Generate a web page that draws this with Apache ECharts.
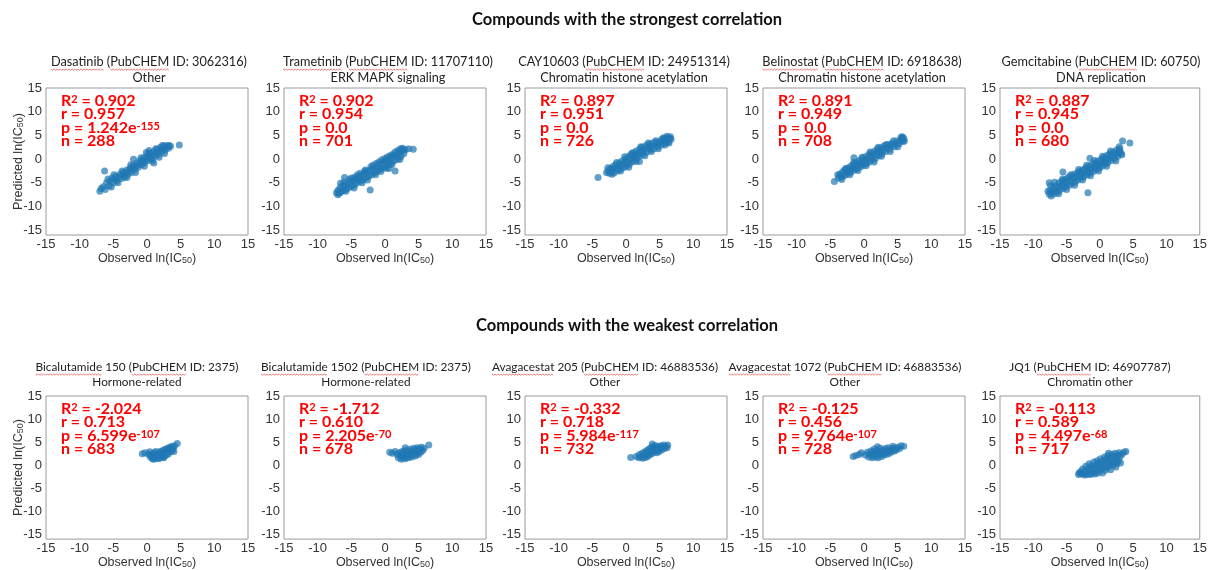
<!DOCTYPE html>
<html>
<head>
<meta charset="utf-8">
<script src="https://cdn.jsdelivr.net/npm/echarts@6/dist/echarts.min.js"></script>
<style>
  html, body { margin: 0; padding: 0; background: #fff; }
  #main { width: 1210px; height: 570px; }
</style>
</head>
<body>
<div id="main"></div>
<script>
// ---- chart text ----
const headings = ['Compounds with the strongest correlation', 'Compounds with the weakest correlation'];
const compoundTitles = [
    'Dasatinib (PubCHEM ID: 3062316)', 'Trametinib (PubCHEM ID: 11707110)', 'CAY10603 (PubCHEM ID: 24951314)',
    'Belinostat (PubCHEM ID: 6918638)', 'Gemcitabine (PubCHEM ID: 60750)',
    'Bicalutamide 150 (PubCHEM ID: 2375)', 'Bicalutamide 1502 (PubCHEM ID: 2375)', 'Avagacestat 205 (PubCHEM ID: 46883536)',
    'Avagacestat 1072 (PubCHEM ID: 46883536)', 'JQ1 (PubCHEM ID: 46907787)'
];
const pathways = ['Other', 'ERK MAPK signaling', 'Chromatin histone acetylation', 'Chromatin histone acetylation', 'DNA replication',
    'Hormone-related', 'Hormone-related', 'Other', 'Other', 'Chromatin other'];
// words flagged by the spell checker in the original slide
const flaggedWords = [
    ['Dasatinib', 'PubCHEM'], ['Trametinib', 'PubCHEM'], ['PubCHEM'], ['Belinostat', 'PubCHEM'], ['PubCHEM'],
    ['Bicalutamide', 'PubCHEM'], ['Bicalutamide', 'PubCHEM'], ['Avagacestat', 'PubCHEM'], ['Avagacestat', 'PubCHEM'], ['PubCHEM']
];

// ---- stats ----
const r2Values = ['0.902', '0.902', '0.897', '0.891', '0.887', '-2.024', '-1.712', '-0.332', '-0.125', '-0.113'];
const rValues = ['0.957', '0.954', '0.951', '0.949', '0.945', '0.713', '0.610', '0.718', '0.456', '0.589'];
const pMantissa = ['1.242', '0.0', '0.0', '0.0', '0.0', '6.599', '2.205', '5.984', '9.764', '4.497'];
const pExponent = ['-155', '', '', '', '', '-107', '-70', '-117', '-107', '-68'];
const nValues = [288, 701, 726, 708, 680, 683, 678, 732, 728, 717];

const axisTicks = [-15, -10, -5, 0, 5, 10, 15];

// ---- observed vs predicted ln(IC50) ----
const dasatinib = [
    [-7.0,-6.8],[-6.8,-6.2],[-6.5,-5.8],[-6.3,-2.5],[-6.0,-5.0],[-5.6,-5.6],[-5.5,-4.6],[-5.2,-4.0],[-5.0,-5.0],[-4.8,-4.2],
    [-4.6,-3.6],[-4.5,-4.6],[-4.2,-3.9],[-4.0,-3.2],[-3.8,-4.1],[-3.6,-3.4],[-3.5,-2.8],[-3.3,-3.8],[-3.1,-2.9],[-3.0,-2.3],
    [-2.8,-3.2],[-2.6,-2.4],[-2.5,-1.8],[-2.3,-2.8],[-2.1,-1.9],[-2.0,-1.3],[-1.8,-2.2],[-1.6,-1.5],[-1.5,-0.8],[-1.3,-1.7],
    [-1.1,-1.0],[-1.0,-0.3],[-0.8,-1.2],[-0.6,-0.5],[-0.5,0.3],[-0.3,-0.7],[-0.1,0.0],[0.0,0.7],[0.2,-0.3],[0.4,0.4],
    [0.5,1.2],[0.7,0.1],[0.9,0.9],[1.0,1.6],[1.2,0.6],[1.4,1.3],[1.5,2.1],[1.7,1.0],[1.9,1.8],[2.0,2.5],
    [2.2,1.5],[2.4,2.2],[2.5,2.8],[2.7,1.9],[2.9,2.5],[3.0,2.9],[3.2,2.3],[3.5,2.7],[4.8,3.0],[0.3,1.8],
    [-2.0,0.0],[1.0,-0.8],[-0.1,1.4],[-5.8,-4.2],[-4.9,-3.3],[-4.3,-5.0],[-3.7,-2.5],[-3.0,-3.9],[-2.4,-1.2],[-1.7,-2.8],
    [-0.9,0.3],[-0.4,-1.5],[0.3,1.3],[0.8,-0.4],[1.3,2.2],[1.8,0.4],[2.3,2.9],[2.6,1.2],[3.3,2.9],[-6.2,-6.4],[-5.3,-5.9]
];
const trametinib = [
    [-7.2,-7.1],[-7.0,-6.6],[-6.8,-7.2],[-6.7,-6.1],[-6.4,-6.7],[-6.3,-5.6],[-6.0,-6.5],[-5.9,-5.4],[-6.1,-4.9],[-5.6,-6.2],
    [-5.5,-5.2],[-5.2,-5.9],[-5.1,-4.8],[-5.3,-4.3],[-4.8,-5.6],[-4.7,-4.5],[-4.4,-5.3],[-4.3,-4.2],[-4.5,-3.8],[-4.0,-4.9],
    [-3.9,-3.8],[-3.6,-4.6],[-3.5,-3.5],[-3.7,-3.0],[-3.2,-4.3],[-3.1,-3.1],[-2.8,-3.9],[-2.7,-2.8],[-2.9,-2.3],[-2.4,-3.6],
    [-2.3,-2.4],[-2.0,-3.3],[-1.9,-2.1],[-2.1,-1.6],[-1.6,-2.9],[-1.5,-1.8],[-1.2,-2.6],[-1.1,-1.4],[-1.3,-0.9],[-0.8,-2.2],
    [-0.7,-1.1],[-0.4,-1.9],[-0.3,-0.7],[-0.5,-0.2],[0.0,-1.6],[0.1,-0.4],[0.4,-1.2],[0.5,0.0],[0.3,0.4],[0.8,-0.9],
    [0.9,0.3],[1.2,-0.5],[1.3,0.7],[1.1,1.0],[1.6,-0.2],[1.7,1.0],[2.0,0.2],[2.1,1.4],[1.9,1.8],[2.4,0.6],
    [2.5,1.7],[2.3,2.2],[2.8,1.2],[2.7,2.0],[-2.2,-6.5],[1.5,-2.5],[3.5,2.2],[4.2,2.1],[-6.0,-3.9],[0.6,-2.0],
    [-6.6,-5.1],[-5.8,-6.8],[-5.0,-4.0],[-4.6,-6.1],[-4.1,-3.3],[-3.4,-5.0],[-3.0,-2.5],[-2.6,-4.4],[-1.8,-1.3],[-1.4,-3.3],
    [-0.9,-0.6],[-0.6,-2.6],[-0.1,0.1],[0.2,-1.9],[0.7,0.7],[1.0,-1.2],[1.5,1.5],[2.2,-0.1],[2.6,2.3],[3.0,2.0],
    [-7.0,-7.5],[-6.6,-7.0]
];
const cay10603 = [
    [-4.15,-3.9],[-2.9,-2.8],[-2.6,-2.4],[-2.5,-3.0],[-2.3,-1.9],[-2.2,-2.7],[-2.0,-2.2],[-1.9,-1.5],[-1.8,-2.9],[-1.6,-2.0],
    [-1.5,-1.2],[-1.3,-2.5],[-1.2,-1.6],[-1.0,-0.8],[-0.9,-2.1],[-0.7,-1.3],[-0.6,-0.4],[-0.4,-1.8],[-0.3,-0.9],[-0.1,0.0],
    [0.0,-1.5],[0.2,-0.5],[0.3,0.5],[0.5,-1.1],[0.6,-0.1],[0.7,0.9],[0.9,-0.6],[1.0,0.3],[1.1,1.3],[1.3,-0.2],
    [1.4,0.8],[1.5,1.7],[1.7,0.3],[1.8,1.2],[2.0,2.1],[2.1,0.7],[2.3,1.6],[2.4,2.5],[2.6,1.1],[2.7,2.0],
    [2.9,2.8],[3.1,1.5],[3.2,2.4],[3.4,3.1],[3.6,1.9],[3.7,2.7],[3.9,3.4],[4.1,2.2],[4.3,3.0],[4.5,3.6],
    [4.7,2.6],[4.9,3.3],[5.1,3.9],[5.3,3.0],[5.5,3.7],[5.7,4.2],[5.9,3.4],[6.0,4.0],[6.2,4.5],[6.3,3.7],
    [6.5,4.3],[6.6,4.7],[6.1,4.8],[5.6,4.5],[2.0,-0.5],[-2.7,-1.8],[-2.1,-3.2],[-1.4,-0.7],[-0.8,-2.5],[-0.2,0.5],
    [0.4,-1.7],[0.9,1.3],[1.5,-0.5],[2.2,2.6],[2.8,0.7],[3.3,3.4],[3.8,1.6],[4.4,3.9],[4.8,2.2],[5.4,4.3],
    [5.8,3.0],[6.4,3.4],[6.7,4.2]
];
const belinostat = [
    [-4.4,-4.7],[-3.8,-4.0],[-3.6,-3.2],[-3.4,-3.8],[-3.2,-2.7],[-3.1,-3.5],[-2.9,-2.3],[-2.8,-3.4],[-2.6,-2.7],[-2.5,-1.9],
    [-2.3,-3.0],[-2.2,-2.2],[-2.0,-1.5],[-1.9,-2.7],[-1.7,-1.9],[-1.6,-1.1],[-1.4,-2.3],[-1.3,-1.5],[-1.1,-0.7],[-1.0,-2.0],
    [-0.8,-1.2],[-0.7,-0.3],[-0.5,-1.6],[-0.4,-0.8],[-0.2,0.1],[-0.1,-1.3],[0.1,-0.4],[0.2,0.5],[0.4,-0.9],[0.5,0.0],
    [0.7,0.9],[0.8,-0.6],[1.0,0.4],[1.1,1.3],[1.3,-0.2],[1.4,0.8],[1.6,1.7],[1.7,0.2],[1.9,1.2],[2.0,2.1],
    [2.2,0.7],[2.3,1.6],[2.5,2.4],[2.7,1.2],[2.8,2.0],[3.0,2.8],[3.2,1.6],[3.4,2.4],[3.6,3.1],[3.8,2.1],
    [4.0,2.8],[4.2,3.4],[4.5,2.6],[4.7,3.2],[4.9,3.8],[5.2,3.2],[5.4,3.8],[5.6,4.3],[5.8,3.7],[5.9,4.4],
    [5.5,4.6],[-1.5,0.3],[-3.9,-3.3],[-3.3,-4.3],[-2.7,-2.0],[-2.1,-3.3],[-1.5,-0.7],[-0.9,-2.4],[-0.3,0.4],[0.3,-1.4],
    [0.9,1.5],[1.5,-0.6],[2.1,2.5],[2.6,0.6],[3.3,3.1],[3.9,1.6],[4.4,3.9],[5.0,2.6],[5.7,4.7],[6.0,3.8]
];
const gemcitabine = [
    [-7.6,-7.4],[-7.5,-6.6],[-7.4,-5.6],[-7.2,-7.0],[-7.0,-6.2],[-6.9,-7.3],[-6.7,-5.6],[-6.6,-6.6],[-6.4,-7.0],[-6.3,-5.9],
    [-6.1,-5.0],[-6.0,-6.5],[-5.8,-5.5],[-5.7,-4.6],[-5.5,-6.2],[-5.4,-5.2],[-5.2,-4.3],[-5.1,-5.8],[-4.9,-4.8],[-4.8,-3.9],
    [-4.6,-5.5],[-4.5,-4.5],[-4.3,-3.6],[-4.2,-5.1],[-4.0,-4.1],[-3.9,-3.2],[-3.7,-4.8],[-3.6,-3.8],[-3.4,-2.9],[-3.3,-4.4],
    [-3.1,-3.4],[-3.0,-2.5],[-2.8,-4.0],[-2.7,-3.1],[-2.5,-2.2],[-2.4,-3.7],[-2.2,-2.7],[-2.1,-1.8],[-1.9,-3.3],[-1.8,-2.4],
    [-1.6,-1.5],[-1.5,-3.0],[-1.3,-2.0],[-1.2,-1.1],[-1.0,-2.6],[-0.9,-1.7],[-0.7,-0.8],[-0.6,-2.2],[-0.4,-1.3],[-0.3,-0.4],
    [-0.1,-1.9],[0.0,-1.0],[0.2,0.0],[0.3,-1.5],[0.5,-0.6],[0.6,0.4],[0.8,-1.1],[0.9,-0.2],[1.1,0.8],[1.2,-0.7],
    [1.4,0.2],[1.5,1.2],[1.7,-0.3],[1.8,0.6],[2.0,1.5],[2.2,0.1],[2.3,1.0],[2.5,1.9],[2.7,0.6],[2.8,1.4],
    [3.0,2.2],[3.2,1.2],[3.4,3.8],[4.5,3.4],[-1.8,-7.1],[-5.55,-2.7],[-1.5,0.2],[-7.6,-5.0],[-7.8,-6.8],[-7.3,-7.8],
    [-6.8,-4.9],[-6.2,-7.3],[-5.6,-4.2],[-5.0,-6.4],[-4.4,-3.3],[-3.8,-5.5],[-3.2,-2.2],[-2.6,-4.4],[-2.0,-1.3],[-1.4,-3.5],
    [-0.8,-0.3],[-0.2,-2.5],[0.4,0.6],[1.0,-1.5],[1.6,1.7],[2.4,-0.4],[2.9,2.6],[3.3,0.9],[3.0,1.7]
];
const bicalutamide150 = [
    [-0.7,2.5],[-0.3,2.7],[0.2,2.4],[0.4,2.9],[0.5,1.8],[0.6,2.3],[0.8,1.4],[0.9,2.0],[1.0,2.7],[1.1,1.6],
    [1.2,2.3],[1.3,3.0],[1.4,1.5],[1.5,2.0],[1.6,2.6],[1.7,1.4],[1.8,2.2],[1.9,2.9],[2.0,1.6],[2.1,2.4],
    [2.2,3.1],[2.3,1.8],[2.4,2.6],[2.5,3.3],[2.6,2.0],[2.7,2.8],[2.8,3.5],[2.9,2.2],[3.0,3.0],[3.1,3.7],
    [3.2,2.5],[3.3,3.3],[3.4,3.9],[3.5,2.9],[3.6,3.6],[3.7,4.1],[3.8,3.3],[3.9,3.8],[4.1,4.2],[4.0,3.0],
    [4.5,4.7],[1.0,1.3],[2.5,1.6]
];
const bicalutamide1502 = [
    [0.7,2.8],[1.1,2.6],[1.5,3.0],[1.8,2.3],[2.0,1.6],[2.1,2.7],[2.3,2.0],[2.4,1.3],[2.5,2.9],[2.6,2.3],
    [2.7,1.6],[2.8,3.1],[2.9,2.1],[3.0,1.4],[3.1,2.7],[3.2,1.8],[3.3,3.3],[3.4,2.4],[3.5,1.6],[3.6,2.9],
    [3.7,2.1],[3.8,3.5],[3.9,2.6],[4.0,1.8],[4.1,3.1],[4.2,2.3],[4.3,3.7],[4.4,2.8],[4.5,2.0],[4.6,3.3],
    [4.7,2.5],[4.8,3.8],[4.9,3.0],[5.0,2.3],[5.1,3.5],[5.3,2.8],[5.4,3.9],[5.6,3.2],[5.8,3.7],[6.5,4.4],
    [3.0,3.8]
];
const avagacestat205 = [
    [0.7,1.7],[1.5,1.9],[1.9,1.6],[2.0,2.3],[2.2,1.8],[2.4,2.6],[2.5,1.5],[2.6,2.1],[2.8,2.9],[2.9,1.7],
    [3.0,2.4],[3.1,3.2],[3.2,1.9],[3.3,2.7],[3.4,3.5],[3.5,2.2],[3.6,3.0],[3.7,3.8],[3.8,2.5],[3.9,3.3],
    [4.0,4.0],[4.1,2.8],[4.2,3.6],[4.3,4.3],[4.4,3.1],[4.5,3.8],[4.6,2.7],[4.7,3.4],[4.8,4.1],[4.9,3.0],
    [5.0,3.7],[5.2,4.2],[5.3,3.3],[5.4,3.9],[5.6,4.4],[5.7,3.6],[5.9,4.1],[6.1,3.8],[6.2,4.4],[3.9,4.6]
];
const avagacestat1072 = [
    [-1.6,1.9],[-1.2,2.1],[-0.7,2.3],[-0.4,2.7],[0.2,2.2],[0.5,2.8],[0.7,1.8],[0.9,2.4],[1.0,3.1],[1.2,1.6],
    [1.3,2.2],[1.4,2.9],[1.5,3.5],[1.7,1.8],[1.8,2.5],[1.9,3.2],[2.1,1.6],[2.2,2.3],[2.3,3.0],[2.4,3.7],
    [2.6,1.9],[2.7,2.6],[2.8,3.3],[3.0,2.2],[3.1,2.9],[3.2,3.6],[3.4,2.4],[3.5,3.1],[3.6,3.8],[3.8,2.6],
    [3.9,3.3],[4.1,2.9],[4.2,3.6],[4.3,4.1],[4.5,3.1],[4.6,3.7],[4.8,3.3],[5.0,3.9],[5.3,3.6],[5.5,4.2],
    [5.9,4.1],[2.0,4.0]
];
const jq1 = [
    [-3.1,-1.6],[-3.2,-2.0],[-2.9,-1.4],[-2.8,-1.9],[-2.6,-0.8],[-2.5,-1.8],[-2.3,-2.1],[-2.2,-1.2],[-2.1,-0.2],[-2.0,-2.0],
    [-1.8,-0.7],[-1.7,-1.5],[-1.6,0.3],[-1.5,-2.0],[-1.4,-1.0],[-1.3,-0.1],[-1.2,-1.9],[-1.0,-0.5],[-0.9,0.7],[-0.8,-1.4],
    [-0.7,-1.9],[-0.6,0.1],[-0.5,-0.8],[-0.4,1.0],[-0.3,-1.7],[-0.2,-0.3],[-0.1,0.6],[0.0,-1.2],[0.1,1.4],[0.2,0.2],
    [0.3,-0.7],[0.4,-1.7],[0.5,0.9],[0.6,-0.2],[0.7,1.8],[0.8,-1.1],[0.9,0.4],[1.0,1.3],[1.1,-0.6],[1.2,2.1],
    [1.3,0.8],[1.4,-0.1],[1.5,1.6],[1.6,-1.0],[1.7,0.4],[1.8,2.4],[1.9,1.1],[2.0,0.0],[2.1,1.9],[2.2,0.7],
    [2.3,2.6],[2.4,-0.4],[2.5,1.4],[2.6,0.4],[2.7,2.2],[2.8,1.0],[2.9,2.7],[3.0,1.8],[3.1,0.5],[3.3,2.3],
    [3.6,2.8],[3.9,3.0],[1.3,2.6]
];
const panelPoints = [dasatinib, trametinib, cay10603, belinostat, gemcitabine,
    bicalutamide150, bicalutamide1502, avagacestat205, avagacestat1072, jq1];

// ---- layout ----
const panelLefts = [46, 284, 525, 763, 1000];
const panelWidth = 202;
const rowTops = [88, 396];
const rowHeights = [147, 149];
const titleCenters = [149, 388, 624, 862, 1101, 137, 366, 605, 845, 1090];
const TICK_FONT = 'Liberation Sans';
const TEXT_FONT = 'Lato';

const chart = echarts.init(document.getElementById('main'));

const grids = [], xAxes = [], yAxes = [], series = [], graphics = [];

function statText(i) {
    const pLine = pExponent[i]
        ? `{b|p = ${pMantissa[i]}e}{sup|${pExponent[i]}}`
        : `{b|p = ${pMantissa[i]}}`;
    return `{b|R}{sup|2}{b| = ${r2Values[i]}}\n{b|r = ${rValues[i]}}\n${pLine}\n{b|n = ${nValues[i]}}`;
}

// wavy red spell-check line under a word of a centred title
const measureCtx = document.createElement('canvas').getContext('2d');
function squiggle(text, word, font, cx, y) {
    measureCtx.font = font;
    const total = measureCtx.measureText(text).width;
    const idx = text.indexOf(word);
    const x0 = cx - total / 2 + measureCtx.measureText(text.slice(0, idx)).width;
    const w = measureCtx.measureText(word).width;
    const pts = [];
    let k = 0;
    for (let dx = 0; dx <= w; dx += 1.5, k++) pts.push([x0 + dx, y + (k % 2 ? 1.2 : 0)]);
    return {
        type: 'polyline', silent: true,
        shape: { points: pts },
        style: { stroke: 'rgba(225,40,40,0.75)', lineWidth: 0.8, fill: null }
    };
}

headings.forEach((h, r) => {
    graphics.push({
        type: 'text', x: 627, y: r === 0 ? 20 : 326, silent: true,
        style: { text: h, font: `bold 16.5px ${TEXT_FONT}`, fill: '#111', align: 'center', verticalAlign: 'middle' }
    });
});

const subRich = { sub: { fontFamily: TICK_FONT, fontSize: 9, color: '#333', verticalAlign: 'bottom', padding: [4, 0, 0, 0] } };

for (let i = 0; i < 10; i++) {
    const row = i < 5 ? 0 : 1;
    const col = i % 5;
    const left = panelLefts[col];
    const top = rowTops[row];
    const height = rowHeights[row];

    grids.push({ left: left, top: top, width: panelWidth, height: height, show: true,
        borderColor: '#9a9a9a', borderWidth: 1, backgroundColor: '#fff' });

    xAxes.push({
        gridIndex: i, type: 'value', min: -15, max: 15, interval: 5,
        axisLine: { show: false }, axisTick: { show: false }, splitLine: { show: false },
        axisLabel: { fontFamily: TICK_FONT, fontSize: 13, color: '#333', margin: 3, showMinLabel: true, showMaxLabel: true },
        name: 'Observed ln(IC{sub|50})', nameLocation: 'middle', nameGap: row === 0 ? 16 : 12,
        nameTextStyle: { fontFamily: TICK_FONT, fontSize: 12.5, color: '#333', rich: subRich }
    });

    yAxes.push({
        gridIndex: i, type: 'value', min: -16, max: 15,
        axisLine: { show: false }, axisTick: { show: false }, splitLine: { show: false },
        axisLabel: { fontFamily: TICK_FONT, fontSize: 13, color: '#333', margin: 4, customValues: axisTicks },
        name: col === 0 ? 'Predicted ln(IC{sub|50})' : '', nameLocation: 'middle', nameGap: 21,
        nameMoveOverlap: false,
        nameTextStyle: { fontFamily: TICK_FONT, fontSize: 12.5, color: '#333', rich: subRich }
    });

    series.push({
        type: 'scatter', xAxisIndex: i, yAxisIndex: i, data: panelPoints[i],
        symbolSize: 7, silent: true,
        itemStyle: { color: '#1f77b4', opacity: 0.7 }
    });

    // panel titles
    const titleFont = row === 0 ? 12.7 : 11.8;
    const y1 = row === 0 ? 62 : 367;
    const y2 = row === 0 ? 78 : 382;
    graphics.push({
        type: 'text', x: titleCenters[i], y: y1, silent: true,
        style: { text: compoundTitles[i], font: `${titleFont}px ${TEXT_FONT}`, fill: '#222', align: 'center', verticalAlign: 'middle' }
    });
    graphics.push({
        type: 'text', x: titleCenters[i], y: y2, silent: true,
        style: { text: pathways[i], font: `${titleFont}px ${TEXT_FONT}`, fill: '#222', align: 'center', verticalAlign: 'middle' }
    });
    flaggedWords[i].forEach(w => {
        graphics.push(squiggle(compoundTitles[i], w, `${titleFont}px ${TEXT_FONT}`, titleCenters[i], y1 + 7));
    });

    // red stats block
    graphics.push({
        type: 'text', x: left + 15, y: top + 6, silent: true, z: 10,
        style: {
            text: statText(i), fill: '#ff0000', align: 'left', verticalAlign: 'top',
            rich: {
                b: { fill: '#ff0000', fontFamily: TEXT_FONT, fontWeight: 'bold', fontSize: 16, lineHeight: 13.5 },
                sup: { fill: '#ff0000', fontFamily: TEXT_FONT, fontWeight: 'bold', fontSize: 11, lineHeight: 10, verticalAlign: 'top' }
            }
        }
    });
}

chart.setOption({
    animation: false,
    backgroundColor: '#fff',
    grid: grids,
    xAxis: xAxes,
    yAxis: yAxes,
    series: series,
    graphic: { elements: graphics }
});
</script>
</body>
</html>
